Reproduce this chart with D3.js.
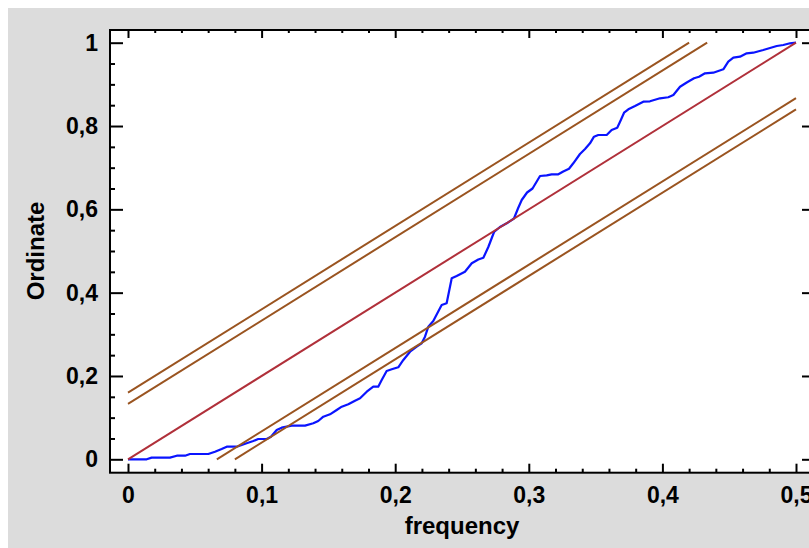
<!DOCTYPE html>
<html><head><meta charset="utf-8">
<script src="https://cdn.jsdelivr.net/npm/d3@7"></script>
<style>html,body{margin:0;padding:0;background:#fff;overflow:hidden}</style>
</head><body>
<svg id="c" width="809" height="548"></svg>
<script>
const curveX = [0,0.014,0.0177,0.0314,0.0365,0.0427,0.0464,0.0601,0.0651,0.0701,0.0739,0.0814,0.0888,0.0938,0.0975,0.1038,0.107,0.1113,0.115,0.1225,0.1325,0.1387,0.1424,0.1462,0.1512,0.1562,0.16,0.1649,0.1699,0.1737,0.1787,0.1836,0.1873,0.1899,0.1936,0.1974,0.2023,0.2061,0.2111,0.2161,0.2198,0.2223,0.2248,0.2285,0.2335,0.2348,0.2385,0.2423,0.246,0.2522,0.2573,0.2622,0.266,0.2697,0.274,0.2784,0.2835,0.2889,0.2919,0.2947,0.2987,0.3028,0.3084,0.3134,0.3171,0.3221,0.3258,0.3301,0.3333,0.3383,0.3421,0.3458,0.3488,0.352,0.3583,0.362,0.3662,0.3683,0.3713,0.3745,0.3795,0.3857,0.3907,0.3982,0.4044,0.4082,0.4132,0.4182,0.4237,0.4274,0.4319,0.4381,0.4456,0.4493,0.4531,0.4581,0.4631,0.468,0.4755,0.4856,0.4905,0.4955,0.5];
const curveY = [0,0,0.004,0.004,0.0086,0.0086,0.0127,0.0127,0.0182,0.0247,0.0302,0.0302,0.0384,0.0439,0.0487,0.0487,0.0542,0.0703,0.0759,0.0807,0.0807,0.0864,0.0919,0.1023,0.108,0.1183,0.1263,0.132,0.1407,0.1464,0.1623,0.1743,0.1743,0.1903,0.212,0.216,0.2208,0.2384,0.2583,0.2703,0.2784,0.2943,0.3183,0.332,0.3625,0.3704,0.3745,0.4345,0.44,0.4503,0.4705,0.4796,0.4837,0.5096,0.5456,0.5576,0.5665,0.578,0.602,0.6224,0.6404,0.65,0.68,0.6817,0.6841,0.6841,0.6908,0.6975,0.7105,0.7328,0.7448,0.7585,0.7744,0.7785,0.7785,0.7905,0.796,0.8104,0.832,0.8401,0.848,0.8584,0.8593,0.8665,0.869,0.8745,0.8944,0.9044,0.9145,0.9184,0.9265,0.928,0.9361,0.9544,0.964,0.9664,0.9746,0.976,0.9825,0.9921,0.9945,0.9986,1];
const bandOffsets = [0.16, 0.133, -0.133, -0.16];
const diagonal = [[0, 0], [0.5, 1]];
const xTicks = [0, 0.1, 0.2, 0.3, 0.4, 0.5];
const xTickLabels = ["0", "0,1", "0,2", "0,3", "0,4", "0,5"];
const yTicks = [0, 0.2, 0.4, 0.6, 0.8, 1];
const yTickLabels = ["0", "0,2", "0,4", "0,6", "0,8", "1"];
const xMinorStep = 0.02, yMinorStep = 0.05;
const xTitle = "frequency", yTitle = "Ordinate";

const svg = d3.select("#c");
const FONT = "'Liberation Sans', Arial, sans-serif";
svg.append("rect").attr("x", 8).attr("y", 8).attr("width", 801).attr("height", 540).attr("fill", "#dcdcdc");

const L = 110, T = 30, R = 815, B = 472.7;
svg.append("rect").attr("x", L).attr("y", T).attr("width", R - L).attr("height", B - T).attr("fill", "#fff");

const x = d3.scaleLinear().domain([0, 0.5]).range([128, 796]);
const y = d3.scaleLinear().domain([0, 1]).range([459.3, 42.7]);

const xMinor = d3.range(0, 0.5 + 1e-9, xMinorStep).filter(v => !xTicks.some(t => Math.abs(t - v) < 1e-6));
const yMinor = d3.range(0, 1 + 1e-9, yMinorStep).filter(v => !yTicks.some(t => Math.abs(t - v) < 1e-6));

function styleAxis(g) {
  g.select(".domain").remove();
  g.selectAll(".tick line").attr("stroke", "#000").attr("stroke-width", 2);
  g.selectAll("text").attr("font-family", FONT).attr("font-weight", "bold").attr("font-size", 23).attr("fill", "#000");
}
// bottom
svg.append("g").attr("transform", `translate(0,${B})`)
  .call(d3.axisBottom(x).tickValues(xTicks).tickSize(-9).tickSizeOuter(0).tickPadding(14).tickFormat((d, i) => xTickLabels[i]))
  .call(styleAxis);
svg.append("g").attr("transform", `translate(0,${B})`)
  .call(d3.axisBottom(x).tickValues(xMinor).tickSize(-4).tickSizeOuter(0).tickFormat(""))
  .call(styleAxis);
// top
svg.append("g").attr("transform", `translate(0,${T})`)
  .call(d3.axisTop(x).tickValues(xTicks).tickSize(-8).tickSizeOuter(0).tickFormat(""))
  .call(styleAxis);
svg.append("g").attr("transform", `translate(0,${T})`)
  .call(d3.axisTop(x).tickValues(xMinor).tickSize(-3).tickSizeOuter(0).tickFormat(""))
  .call(styleAxis);
// left
svg.append("g").attr("transform", `translate(${L},0)`)
  .call(d3.axisLeft(y).tickValues(yTicks).tickSize(-13).tickSizeOuter(0).tickPadding(12).tickFormat((d, i) => yTickLabels[i]))
  .call(styleAxis);
svg.append("g").attr("transform", `translate(${L},0)`)
  .call(d3.axisLeft(y).tickValues(yMinor).tickSize(-5).tickSizeOuter(0).tickFormat(""))
  .call(styleAxis);
// right
svg.append("g").attr("transform", `translate(${R},0)`)
  .call(d3.axisRight(y).tickValues(yTicks).tickSize(-13).tickSizeOuter(0).tickFormat(""))
  .call(styleAxis);
svg.append("g").attr("transform", `translate(${R},0)`)
  .call(d3.axisRight(y).tickValues(yMinor).tickSize(-5).tickSizeOuter(0).tickFormat(""))
  .call(styleAxis);

// frame
svg.append("rect").attr("x", L).attr("y", T).attr("width", R - L).attr("height", B - T)
  .attr("fill", "none").attr("stroke", "#000").attr("stroke-width", 2);

const line = d3.line().x(d => x(d[0])).y(d => y(d[1]));

// blue curve
svg.append("path").datum(d3.zip(curveX, curveY)).attr("d", line)
  .attr("fill", "none").attr("stroke", "#0a14ff").attr("stroke-width", 2.2).attr("stroke-linejoin", "round");

// bands: parallel to the diagonal, clipped to [0,0.5]x[0,1]
const slope = (diagonal[1][1] - diagonal[0][1]) / (diagonal[1][0] - diagonal[0][0]);
bandOffsets.forEach(c => {
  const x0 = Math.max(0, (0 - c) / slope), x1 = Math.min(0.5, (1 - c) / slope);
  svg.append("path").datum([[x0, slope * x0 + c], [x1, slope * x1 + c]]).attr("d", line)
    .attr("fill", "none").attr("stroke", "#9a5420").attr("stroke-width", 2);
});
svg.append("path").datum(diagonal).attr("d", line)
  .attr("fill", "none").attr("stroke", "#b0303a").attr("stroke-width", 2);

// titles
svg.append("text").attr("x", 462).attr("y", 534).attr("text-anchor", "middle")
  .attr("font-family", FONT).attr("font-weight", "bold").attr("font-size", 24).text(xTitle);
svg.append("text").attr("transform", "translate(44,251) rotate(-90)").attr("text-anchor", "middle")
  .attr("font-family", FONT).attr("font-weight", "bold").attr("font-size", 24).text(yTitle);
</script>
</body></html>
